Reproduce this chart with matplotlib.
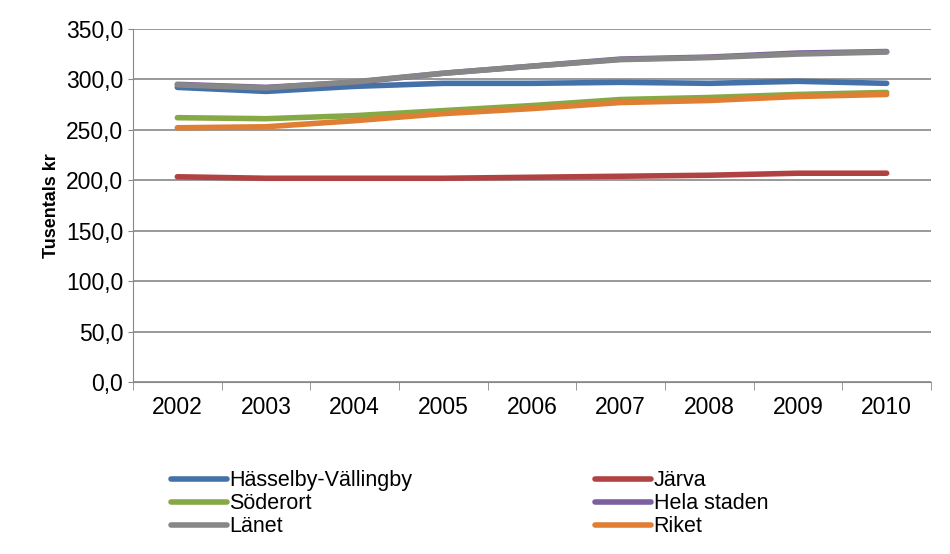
import matplotlib.pyplot as plt
from matplotlib.ticker import FuncFormatter

years = ["2002", "2003", "2004", "2005", "2006", "2007", "2008", "2009", "2010"]
hasselby = [292, 288, 293, 296, 296, 297, 296, 298, 296]
jarva = [203.5, 202, 202, 202, 203, 204, 205, 207, 207]
soderort = [262, 261, 264, 269, 274, 280, 282, 285, 287]
hela = [295, 292, 297, 306, 313, 320, 322, 326, 327.5]
lanet = [294.5, 291.5, 297.5, 306, 313, 319.5, 321.5, 325, 327]
riket = [252, 253, 259, 266, 271, 277, 279, 283, 285]

series = [
    ("Hässelby-Vällingby", hasselby, "#4472a8"),
    ("Järva", jarva, "#b04341"),
    ("Söderort", soderort, "#86a845"),
    ("Hela staden", hela, "#7b5fa0"),
    ("Länet", lanet, "#878787"),
    ("Riket", riket, "#e07f33"),
]

plt.rcParams["font.family"] = ["Liberation Sans", "DejaVu Sans"]
fig = plt.figure(figsize=(9.5, 5.54), dpi=100)
ax = fig.add_axes([0.14, 0.31, 0.84, 0.638])
x = range(len(years))
lines = []
for name, vals, col in series:
    ln, = ax.plot(x, vals, color=col, linewidth=4, label=name, solid_capstyle="round")
    lines.append(ln)

ax.set_xlim(-0.5, len(years) - 0.5)
ax.set_ylim(0, 350)
ax.set_yticks(range(0, 351, 50))
ax.yaxis.set_major_formatter(FuncFormatter(lambda v, p: f"{v:.1f}".replace(".", ",")))
ax.set_xticks(list(x))
ax.set_xticklabels(years)
ax.tick_params(labelsize=16.5, color="#888888")
ax.tick_params(axis="x", length=0, pad=10)
ax.set_xticks([i - 0.5 for i in range(len(years) + 1)], minor=True)
ax.tick_params(axis="x", which="minor", length=6, color="#888888")
ax.grid(axis="y", color="#888888", linewidth=1.2)
ax.set_axisbelow(True)
for s in ["top", "right"]:
    ax.spines[s].set_visible(False)
for s in ["left", "bottom"]:
    ax.spines[s].set_color("#888888")
ax.set_ylabel("Tusentals kr", fontsize=13, fontweight="bold")

order = [0, 2, 4, 1, 3, 5]
fig.legend([lines[i] for i in order], [series[i][0] for i in order],
           loc="lower left", bbox_to_anchor=(0.16, -0.005), ncol=2, frameon=False,
           fontsize=15.5, handlelength=2.6, handletextpad=0.1, columnspacing=8.5,
           labelspacing=0.1)

plt.savefig("out.png", dpi=100)
